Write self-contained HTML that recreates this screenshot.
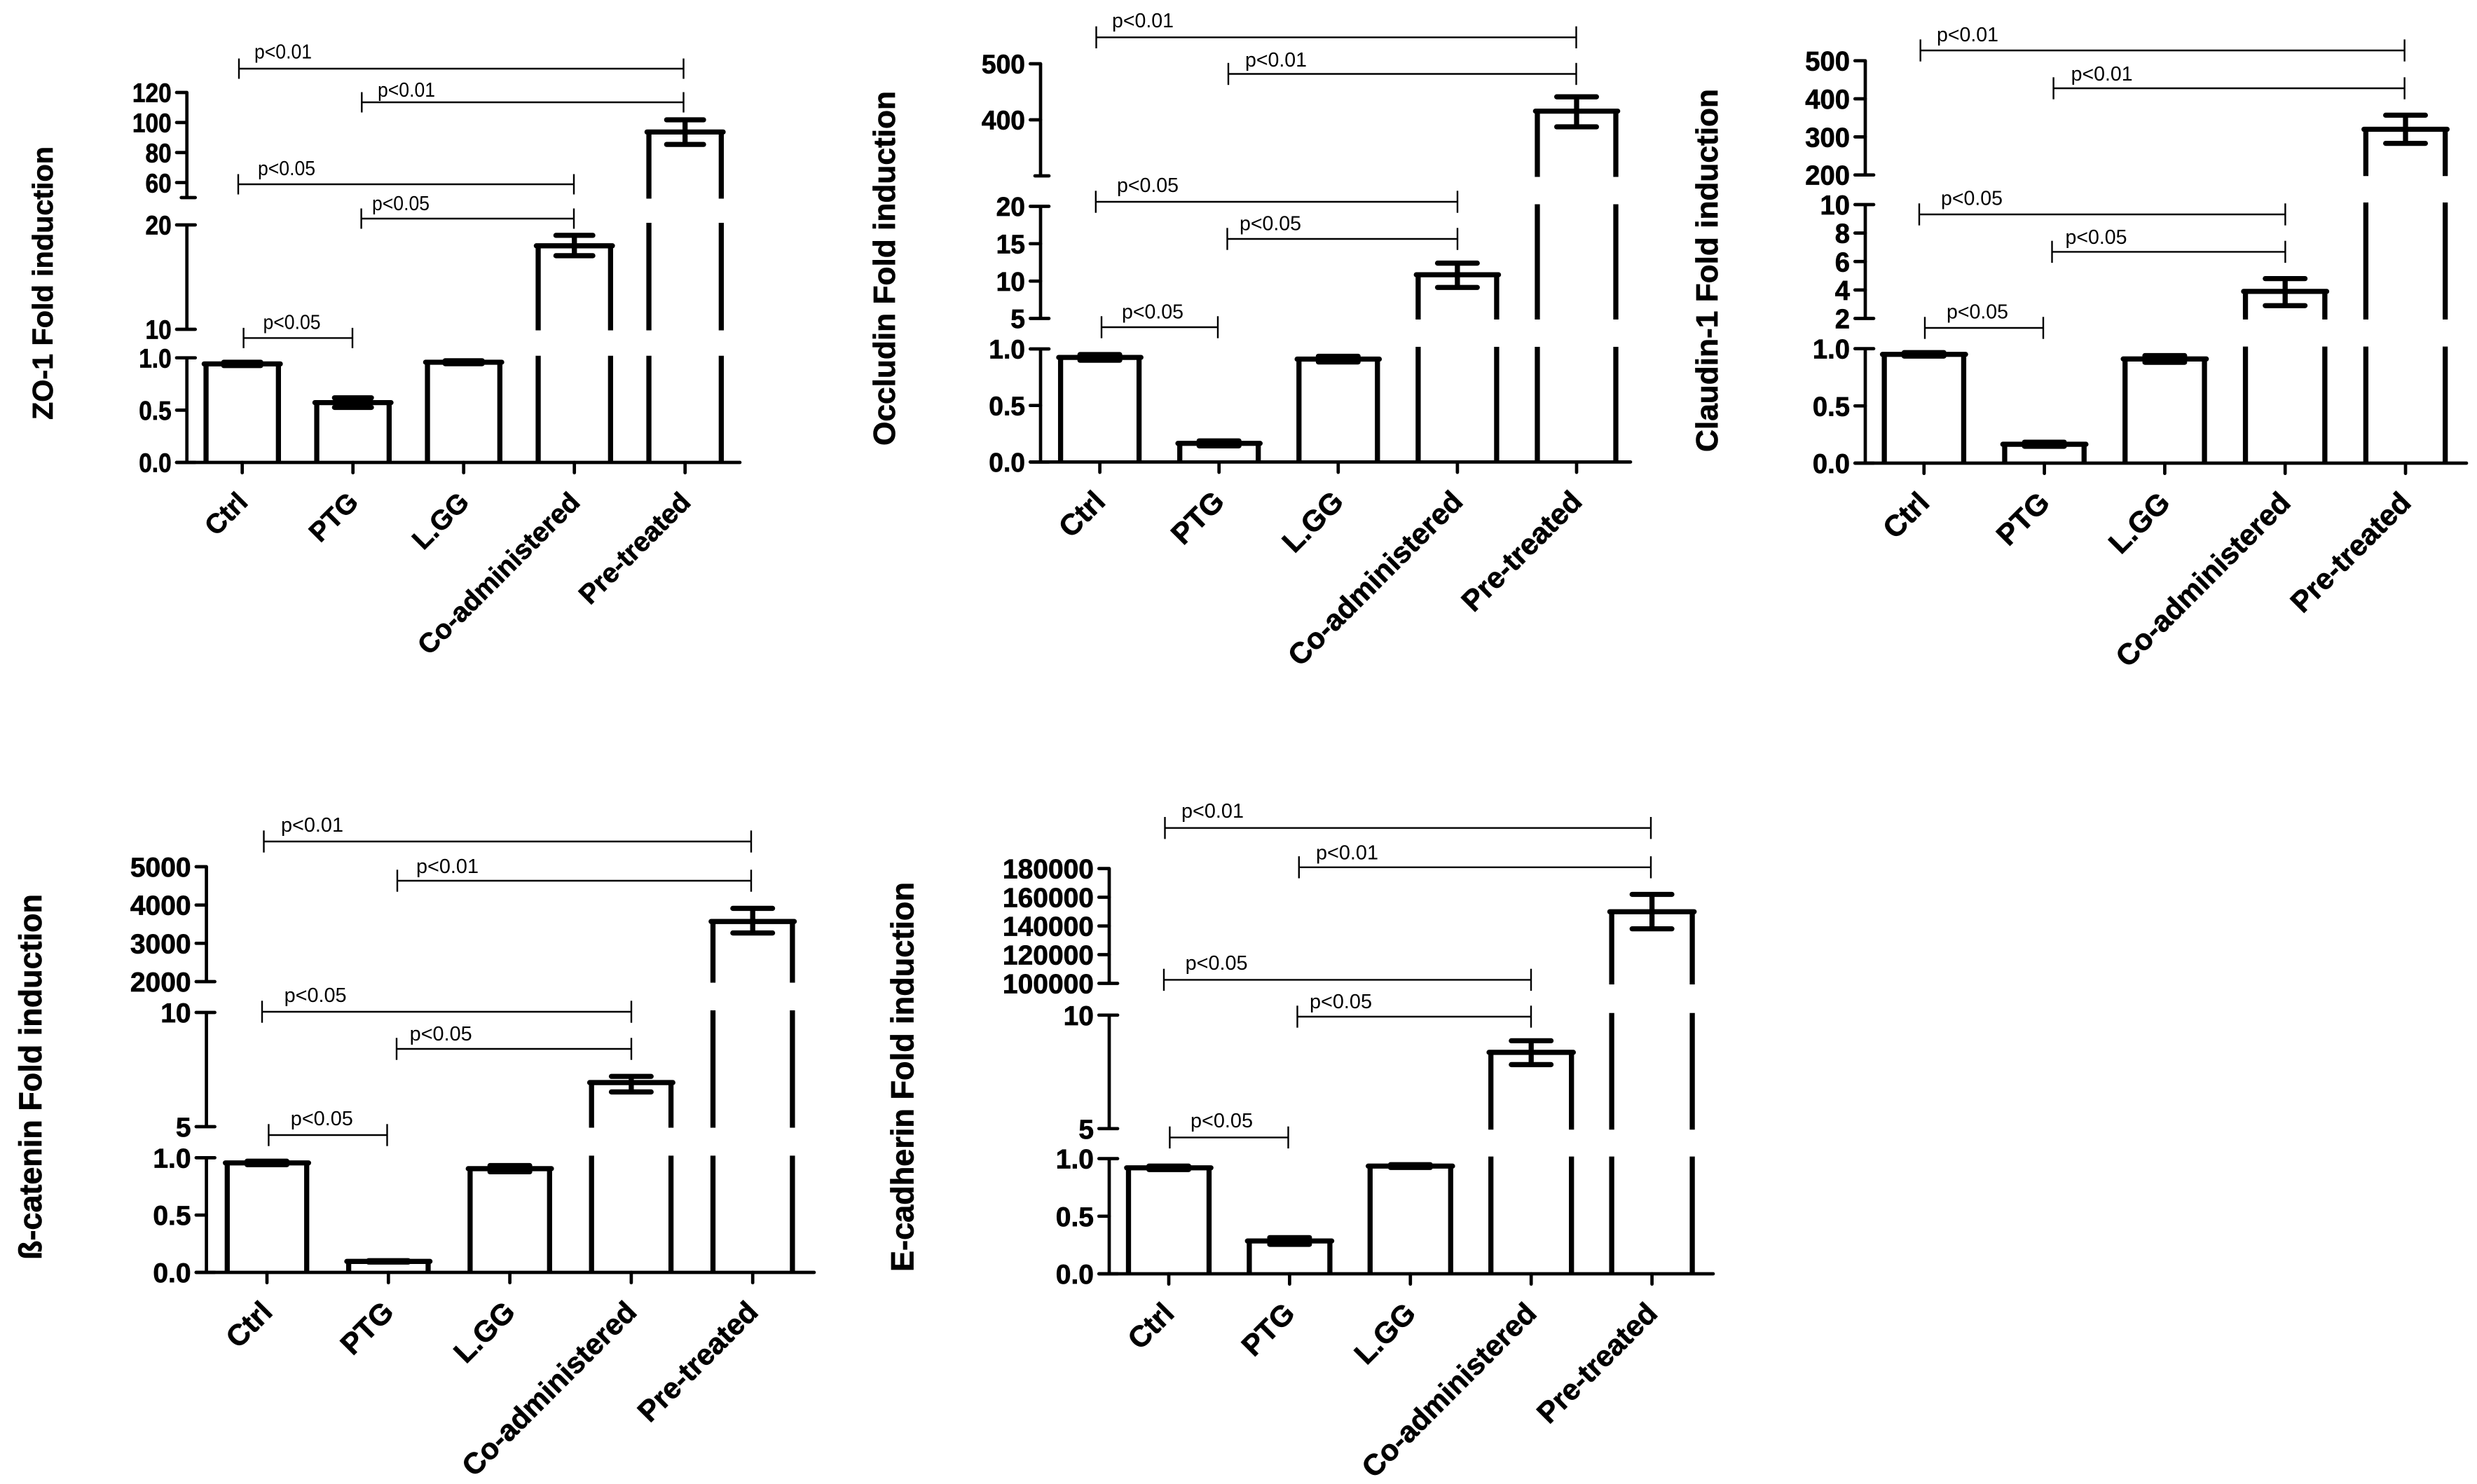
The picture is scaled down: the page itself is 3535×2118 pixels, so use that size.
<!DOCTYPE html>
<html lang="en">
<head>
<meta charset="utf-8">
<title>Fold induction charts</title>
<style>
  html, body { margin: 0; padding: 0; background: #fff; }
  svg { display: block; }
  text { font-family: "Liberation Sans", Arial, sans-serif; fill: #000; }
  .tick-label, .category-label, .axis-title { font-weight: bold; stroke: #000; stroke-width: 0.7px; }
</style>
</head>
<body>
<svg id="figure" xmlns="http://www.w3.org/2000/svg" width="3535" height="2118" viewBox="0 0 3535 2118">
  <rect width="3535" height="2118" fill="#fff"/>
  <g id="panel-zo1"></g>
  <g id="panel-occludin"></g>
  <g id="panel-claudin"></g>
  <g id="panel-catenin"></g>
  <g id="panel-cadherin"></g>
</svg>
<script>
const categories = ['Ctrl', 'PTG', 'L.GG', 'Co-administered', 'Pre-treated'];
const lowTicks = [0, 0.5, 1];

const zo1Means = [0.942, 0.572, 0.958, 18.0, 93.7];
const zo1Lower = [0.926, 0.526, 0.944, 17.05, 85.4];
const zo1Upper = [0.958, 0.618, 0.972, 19.0, 101.8];
const zo1TopTicks = [60, 80, 100, 120];
const zo1MidTicks = [10, 20];

const occludinMeans = [0.925, 0.165, 0.91, 10.85, 415.5];
const occludinLower = [0.9, 0.143, 0.885, 9.15, 387.5];
const occludinUpper = [0.95, 0.187, 0.935, 12.4, 441];
const occludinTopTicks = [400, 500];
const occludinMidTicks = [5, 10, 15, 20];

const claudinMeans = [0.95, 0.165, 0.91, 3.9, 320];
const claudinLower = [0.935, 0.147, 0.881, 2.9, 283];
const claudinUpper = [0.965, 0.183, 0.939, 4.8, 357];
const claudinTopTicks = [200, 300, 400, 500];
const claudinMidTicks = [2, 4, 6, 8, 10];

const cateninMeans = [0.955, 0.096, 0.905, 6.93, 3570];
const cateninLower = [0.94, 0.09, 0.878, 6.52, 3270];
const cateninUpper = [0.97, 0.102, 0.932, 7.2, 3913];
const cateninTopTicks = [2000, 3000, 4000, 5000];
const cateninMidTicks = [5, 10];

const cadherinMeans = [0.92, 0.285, 0.935, 8.36, 149900];
const cadherinLower = [0.905, 0.256, 0.923, 7.82, 138000];
const cadherinUpper = [0.935, 0.314, 0.947, 8.87, 162000];
const cadherinTopTicks = [100000, 120000, 140000, 160000, 180000];
const cadherinMidTicks = [5, 10];

const panels = [
  {
    id: 'panel-zo1', title: 'ZO-1 Fold induction', titleX: 75, titleY: 404, titleLen: 390, titleSize: 41,
    means: zo1Means, lower: zo1Lower, upper: zo1Upper,
    segments: [
      { domain: [0, 1], range: [660, 510.7], ticks: lowTicks, decimals: 1 },
      { domain: [10, 20], range: [470, 321], ticks: zo1MidTicks, decimals: 0 },
      { domain: [50, 120], range: [282, 132], ticks: zo1TopTicks, decimals: 0 }
    ],
    axisX: 266.7, axisEnd: 1056, firstX: 345.7, stepX: 158, barW: 103.3, capW: 60,
    tickFont: 38, tickStretch: 0.88, catFont: 39, labelW: 82, labelFont: 28.5, bracketTick: 14.5,
    brackets: [
      { a: 341, b: 975.5, y: 98, lx: 363, ly: 83.6, t: 'p<0.01' },
      { a: 516.3, b: 975.5, y: 146, lx: 539, ly: 138, t: 'p<0.01' },
      { a: 340, b: 819, y: 263, lx: 368, ly: 250, t: 'p<0.05' },
      { a: 515.6, b: 819, y: 312, lx: 531, ly: 300, t: 'p<0.05' },
      { a: 347.6, b: 503, y: 482.4, lx: 375.5, ly: 469.7, t: 'p<0.05' }
    ]
  },
  {
    id: 'panel-occludin', title: 'Occludin Fold induction', titleX: 1277, titleY: 383, titleLen: 506, titleSize: 44,
    means: occludinMeans, lower: occludinLower, upper: occludinUpper,
    segments: [
      { domain: [0, 1], range: [659.4, 498], ticks: lowTicks, decimals: 1 },
      { domain: [5, 20], range: [454.5, 294.5], ticks: occludinMidTicks, decimals: 0 },
      { domain: [300, 500], range: [251, 91], ticks: occludinTopTicks, decimals: 0 }
    ],
    axisX: 1485, axisEnd: 2327, firstX: 1569.6, stepX: 170.1, barW: 112, capW: 64,
    tickFont: 38, tickStretch: 0.98, catFont: 42, labelW: 88, labelFont: 28.5, bracketTick: 15.7,
    brackets: [
      { a: 1564.5, b: 2249.5, y: 53.3, lx: 1587, ly: 39, t: 'p<0.01' },
      { a: 1753, b: 2249.5, y: 105.5, lx: 1777, ly: 95, t: 'p<0.01' },
      { a: 1563.8, b: 2080, y: 288, lx: 1594, ly: 274, t: 'p<0.05' },
      { a: 1751.5, b: 2080, y: 341, lx: 1769, ly: 328.5, t: 'p<0.05' },
      { a: 1572, b: 1738, y: 467, lx: 1601, ly: 454.5, t: 'p<0.05' }
    ]
  },
  {
    id: 'panel-claudin', title: 'Claudin-1 Fold induction', titleX: 2451, titleY: 386, titleLen: 518, titleSize: 44,
    means: claudinMeans, lower: claudinLower, upper: claudinUpper,
    segments: [
      { domain: [0, 1], range: [661, 497.6], ticks: lowTicks, decimals: 1 },
      { domain: [2, 10], range: [454.5, 292], ticks: claudinMidTicks, decimals: 0 },
      { domain: [200, 500], range: [249.7, 86.7], ticks: claudinTopTicks, decimals: 0 }
    ],
    axisX: 2662, axisEnd: 3520, firstX: 2745.8, stepX: 171.8, barW: 113.3, capW: 64,
    tickFont: 39, tickStretch: 0.98, catFont: 42, labelW: 88, labelFont: 28.5, bracketTick: 15.7,
    brackets: [
      { a: 2740.7, b: 3431.6, y: 72, lx: 2764, ly: 58.8, t: 'p<0.01' },
      { a: 2930.6, b: 3431.6, y: 126, lx: 2955.6, ly: 115, t: 'p<0.01' },
      { a: 2739, b: 3261.4, y: 306, lx: 2770, ly: 292.7, t: 'p<0.05' },
      { a: 2928.5, b: 3261.4, y: 359.4, lx: 2947.5, ly: 348, t: 'p<0.05' },
      { a: 2747, b: 2916, y: 468, lx: 2778, ly: 454.5, t: 'p<0.05' }
    ]
  },
  {
    id: 'panel-catenin', title: '\u00DF-catenin Fold induction', titleX: 59, titleY: 1537, titleLen: 522, titleSize: 45,
    means: cateninMeans, lower: cateninLower, upper: cateninUpper,
    segments: [
      { domain: [0, 1], range: [1816, 1652.4], ticks: lowTicks, decimals: 1 },
      { domain: [5, 10], range: [1608, 1445], ticks: cateninMidTicks, decimals: 0 },
      { domain: [2000, 5000], range: [1401, 1237], ticks: cateninTopTicks, decimals: 0 }
    ],
    axisX: 294.6, axisEnd: 1162, firstX: 381, stepX: 173.3, barW: 113.4, capW: 64,
    tickFont: 39, tickStretch: 1, catFont: 42, labelW: 89, labelFont: 28.5, bracketTick: 15.7,
    brackets: [
      { a: 376.5, b: 1072, y: 1201, lx: 401, ly: 1187, t: 'p<0.01' },
      { a: 567, b: 1072, y: 1257, lx: 594, ly: 1246, t: 'p<0.01' },
      { a: 374, b: 901, y: 1444, lx: 405.6, ly: 1430, t: 'p<0.05' },
      { a: 566, b: 901, y: 1497, lx: 584.7, ly: 1485, t: 'p<0.05' },
      { a: 383.4, b: 552.5, y: 1620, lx: 414.8, ly: 1606, t: 'p<0.05' }
    ]
  },
  {
    id: 'panel-cadherin', title: 'E-cadherin Fold induction', titleX: 1303.6, titleY: 1537, titleLen: 556, titleSize: 45,
    means: cadherinMeans, lower: cadherinLower, upper: cadherinUpper,
    segments: [
      { domain: [0, 1], range: [1818, 1653.6], ticks: lowTicks, decimals: 1 },
      { domain: [5, 10], range: [1610.8, 1448.8], ticks: cadherinMidTicks, decimals: 0 },
      { domain: [100000, 180000], range: [1403.5, 1239.6], ticks: cadherinTopTicks, decimals: 0 }
    ],
    axisX: 1583, axisEnd: 2445, firstX: 1668, stepX: 172.4, barW: 115, capW: 64,
    tickFont: 39, tickStretch: 1, catFont: 42, labelW: 89, labelFont: 28.5, bracketTick: 15.7,
    brackets: [
      { a: 1662.5, b: 2356, y: 1181.7, lx: 1686, ly: 1167, t: 'p<0.01' },
      { a: 1853.8, b: 2356, y: 1237.8, lx: 1878, ly: 1226.5, t: 'p<0.01' },
      { a: 1661, b: 2185, y: 1398.4, lx: 1691.6, ly: 1384, t: 'p<0.05' },
      { a: 1851.5, b: 2185, y: 1451, lx: 1869, ly: 1439, t: 'p<0.05' },
      { a: 1669.4, b: 1838.5, y: 1623.4, lx: 1699, ly: 1609, t: 'p<0.05' }
    ]
  }
];

const NS = 'http://www.w3.org/2000/svg';
const AXIS_W = 4.7;
const BAR_W = 7.3;
const CAP_W = 7.3;
const THIN_W = 2.4;
const TICK_LEN = 17;

function drawLine(parent, x1, y1, x2, y2, width) {
  const el = document.createElementNS(NS, 'line');
  el.setAttribute('x1', x1);
  el.setAttribute('y1', y1);
  el.setAttribute('x2', x2);
  el.setAttribute('y2', y2);
  el.setAttribute('stroke', '#000');
  el.setAttribute('stroke-width', width);
  parent.appendChild(el);
  return el;
}

function drawText(parent, x, y, content, size, cls, anchor) {
  const el = document.createElementNS(NS, 'text');
  el.setAttribute('x', x);
  el.setAttribute('y', y);
  el.setAttribute('font-size', size);
  el.setAttribute('class', cls);
  el.setAttribute('text-anchor', anchor);
  el.textContent = content;
  parent.appendChild(el);
  return el;
}

function drawGroup(parent) {
  const el = document.createElementNS(NS, 'g');
  parent.appendChild(el);
  return el;
}

function segScale(seg, v) {
  const t = (v - seg.domain[0]) / (seg.domain[1] - seg.domain[0]);
  return seg.range[0] + t * (seg.range[1] - seg.range[0]);
}

function segmentIndexFor(segments, v) {
  for (let i = segments.length - 1; i >= 0; i--) {
    if (v >= segments[i].domain[0]) return i;
  }
  return 0;
}

function yScale(segments, v) {
  const seg = segments[segmentIndexFor(segments, v)];
  return segScale(seg, Math.min(v, seg.domain[1]));
}

function xScale(p, i) {
  return p.firstX + i * p.stepX;
}

function numberWidthEm(s) {
  let w = 0;
  for (let i = 0; i < s.length; i++) w += s[i] === '.' ? 0.278 : 0.556;
  return w;
}

function drawYAxis(root, p) {
  const axis = drawGroup(root);
  
  
  p.segments.forEach(function (seg, si) {
    const isTop = si === p.segments.length - 1;
    const spine = drawLine(axis, p.axisX, seg.range[0], p.axisX, seg.range[1], AXIS_W);
    
    
    seg.ticks.forEach(function (v) {
      const y = segScale(seg, v);
      const atEnd = v === seg.domain[0] || (v === seg.domain[1] && !isTop);
      const tick = drawLine(axis, p.axisX - TICK_LEN + 2.3, y, p.axisX + (atEnd ? 12 : 0), y, AXIS_W);
      tick.setAttribute('stroke-linecap', 'round');
      
      
      const text = v.toFixed(seg.decimals);
      const label = drawText(axis, p.axisX - TICK_LEN - 5, y + p.tickFont * 0.36, text, p.tickFont, 'tick-label', 'end');
      label.setAttribute('textLength', numberWidthEm(text) * p.tickFont * p.tickStretch);
      label.setAttribute('lengthAdjust', 'spacingAndGlyphs');
      
      
    });
    if (seg.ticks.indexOf(seg.domain[0]) < 0) {
      const brk = drawLine(axis, p.axisX - 8, seg.range[0], p.axisX + 12, seg.range[0], AXIS_W);
      brk.setAttribute('stroke-linecap', 'round');
      
      
    }
  });
}

function drawXAxis(root, p) {
  const axis = drawGroup(root);
  
  
  const y0 = p.segments[0].range[0];
  const base = drawLine(axis, p.axisX - TICK_LEN + 2.3, y0, p.axisEnd, y0, AXIS_W);
  base.setAttribute('stroke-linecap', 'round');
  
  
  categories.forEach(function (name, i) {
    const x = xScale(p, i);
    const tick = drawLine(axis, x, y0, x, y0 + TICK_LEN - 2.3, AXIS_W);
    tick.setAttribute('stroke-linecap', 'round');
    
    
    const ax = x + 10;
    const ay = y0 + 59;
    const label = drawText(axis, ax, ay, name, p.catFont, 'category-label', 'end');
    label.setAttribute('transform', 'rotate(-45 ' + ax + ' ' + ay + ')');
    
    
  });
}

function drawBars(root, p) {
  categories.forEach(function (name, i) {
    const bar = drawGroup(root);
    
    
    const cx = xScale(p, i);
    const left = cx - p.barW / 2;
    const right = cx + p.barW / 2;
    const mean = p.means[i];
    const topSeg = segmentIndexFor(p.segments, mean);
    for (let s = 0; s <= topSeg; s++) {
      const seg = p.segments[s];
      const yTop = s === topSeg ? yScale(p.segments, mean) : seg.range[1] - 3;
      const yBot = s === 0 ? seg.range[0] : seg.range[0] + 1.5;
      const sideL = drawLine(bar, left, yBot, left, yTop, BAR_W);
      
      
      const sideR = drawLine(bar, right, yBot, right, yTop, BAR_W);
      
      
    }
    const yMean = yScale(p.segments, mean);
    const top = drawLine(bar, left - BAR_W / 2 + 1, yMean, right + BAR_W / 2 - 1, yMean, BAR_W);
    top.setAttribute('stroke-linecap', 'round');
    
    

    const yLo = yScale(p.segments, p.lower[i]);
    const yHi = yScale(p.segments, p.upper[i]);
    const halfCap = (p.capW - CAP_W) / 2;
    const stem = drawLine(bar, cx, yLo, cx, yHi, CAP_W);
    
    
    const capLo = drawLine(bar, cx - halfCap, yLo, cx + halfCap, yLo, CAP_W);
    capLo.setAttribute('stroke-linecap', 'round');
    
    
    const capHi = drawLine(bar, cx - halfCap, yHi, cx + halfCap, yHi, CAP_W);
    capHi.setAttribute('stroke-linecap', 'round');
    
    
  });
}

function drawBrackets(root, p) {
  p.brackets.forEach(function (b) {
    const g = drawGroup(root);
    
    
    const span = drawLine(g, b.a, b.y, b.b, b.y, THIN_W);
    
    
    const endA = drawLine(g, b.a, b.y - p.bracketTick, b.a, b.y + p.bracketTick, THIN_W);
    
    
    const endB = drawLine(g, b.b, b.y - p.bracketTick, b.b, b.y + p.bracketTick, THIN_W);
    
    
    const label = drawText(g, b.lx, b.ly, b.t, p.labelFont, 'p-label', 'start');
    label.setAttribute('textLength', p.labelW);
    label.setAttribute('lengthAdjust', 'spacingAndGlyphs');
    
    
  });
}

function drawTitle(root, p) {
  const title = drawText(root, p.titleX, p.titleY, p.title, p.titleSize, 'axis-title', 'middle');
  title.setAttribute('transform', 'rotate(-90 ' + p.titleX + ' ' + p.titleY + ')');
  title.setAttribute('textLength', p.titleLen);
  title.setAttribute('lengthAdjust', 'spacingAndGlyphs');
  
  
}

panels.forEach(function (p) {
  const root = document.getElementById(p.id);
  drawTitle(root, p);
  drawBars(root, p);
  drawYAxis(root, p);
  drawXAxis(root, p);
  drawBrackets(root, p);
});
</script>
</body>
</html>
